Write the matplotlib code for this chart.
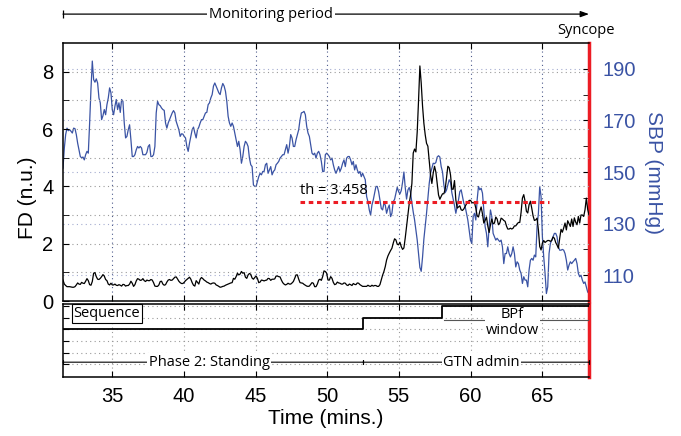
import matplotlib
matplotlib.use('Agg')
import matplotlib.pyplot as plt
import numpy as np

plt.rcParams['font.family'] = ['Liberation Sans', 'DejaVu Sans']

# time span of the recording (minutes)
t_start, t_end = 31.56, 68.27

# FD (n.u.), black trace
fd = [
    0.73, 0.59, 0.54, 0.50, 0.50, 0.50, 0.49, 0.48, 0.48, 0.50,
    0.56, 0.63, 0.59, 0.58, 0.65, 0.62, 0.61, 0.69, 0.78, 0.71,
    0.57, 0.55, 0.68, 0.97, 0.99, 0.85, 0.76, 0.75, 0.79, 0.85,
    0.92, 0.87, 0.75, 0.71, 0.59, 0.56, 0.62, 0.56, 0.56, 0.59,
    0.55, 0.54, 0.57, 0.55, 0.52, 0.58, 0.57, 0.52, 0.54, 0.54,
    0.59, 0.69, 0.62, 0.51, 0.57, 0.70, 0.78, 0.76, 0.72, 0.73,
    0.78, 0.71, 0.68, 0.73, 0.71, 0.71, 0.75, 0.73, 0.64, 0.52,
    0.51, 0.51, 0.56, 0.68, 0.69, 0.59, 0.55, 0.57, 0.66, 0.73,
    0.75, 0.72, 0.73, 0.78, 0.83, 0.84, 0.77, 0.69, 0.64, 0.61,
    0.61, 0.65, 0.71, 0.75, 0.79, 0.83, 0.76, 0.64, 0.55, 0.52,
    0.71, 0.65, 0.59, 0.76, 0.82, 0.78, 0.73, 0.70, 0.66, 0.64,
    0.61, 0.59, 0.62, 0.63, 0.62, 0.56, 0.54, 0.51, 0.48, 0.49,
    0.51, 0.52, 0.55, 0.57, 0.59, 0.61, 0.63, 0.64, 0.79, 0.76,
    0.85, 0.97, 0.91, 0.94, 1.03, 0.97, 0.99, 0.83, 0.79, 0.91,
    0.96, 0.93, 0.80, 0.76, 0.82, 0.87, 0.79, 0.64, 0.66, 0.73,
    0.72, 0.70, 0.72, 0.73, 0.79, 0.78, 0.72, 0.76, 0.76, 0.77,
    0.87, 0.87, 0.85, 0.84, 0.73, 0.64, 0.59, 0.56, 0.58, 0.62,
    0.59, 0.59, 0.63, 0.68, 0.79, 0.91, 0.91, 0.76, 0.64, 0.63,
    0.62, 0.58, 0.55, 0.52, 0.51, 0.52, 0.58, 0.64, 0.62, 0.50,
    0.50, 0.59, 0.73, 0.76, 0.72, 0.85, 1.05,
    1.03, 0.97, 0.73, 0.73, 0.85, 0.79, 0.65, 0.57, 0.59, 0.66,
    0.63, 0.62, 0.59, 0.59, 0.63, 0.62, 0.56, 0.54, 0.59, 0.57,
    0.54, 0.61, 0.58, 0.57, 0.63, 0.62, 0.57, 0.54, 0.51, 0.51,
    0.51, 0.51, 0.55, 0.52, 0.51, 0.55, 0.52, 0.54, 0.54, 0.51,
    0.51, 0.57, 0.73, 0.90, 1.03, 1.20, 1.43, 1.57, 1.67, 1.76,
    1.84, 2.02, 2.17, 2.13, 1.98, 1.96, 2.05, 1.90, 1.80, 1.85,
    2.20, 2.60, 3.00, 3.40, 3.70, 4.10, 5.16, 5.30, 5.20, 5.90,
    7.00, 8.20, 7.60, 6.80, 6.20, 5.80, 5.50, 5.40, 4.90, 4.40,
    4.10, 4.46, 4.70, 4.50, 4.10, 3.70, 3.55, 3.65, 3.74, 3.74,
    3.90, 4.30, 4.70, 4.65, 4.40, 3.90, 3.90, 4.20,
    3.53, 3.24, 3.28, 3.32, 3.18, 3.16, 3.21, 3.30, 3.39, 3.44,
    3.51, 3.51, 3.44, 3.42, 3.44, 3.24, 2.97, 2.93, 3.13, 3.28,
    3.04, 2.72, 2.81, 2.93, 2.62, 2.39, 2.66, 2.86, 2.69, 2.72,
    2.93, 2.86, 2.66, 2.72, 2.89, 2.86, 2.81, 2.78, 2.62, 2.51,
    2.51, 2.54, 2.51, 2.54, 2.62, 2.62, 2.69, 2.74, 2.74, 3.09,
    3.59, 3.71, 3.48, 3.13, 3.07, 3.36, 3.48, 3.24, 2.97, 2.81,
    2.83, 2.89, 2.48, 1.90, 1.78, 2.02, 2.11, 2.04, 2.08, 2.11,
    2.11, 2.08, 2.11, 2.23, 2.19, 2.04, 1.95, 1.84, 2.19, 2.50,
    2.40, 2.55, 2.72, 2.48, 2.80, 2.70, 2.60, 2.86, 2.60, 2.90,
    2.75, 2.66, 2.95, 2.72, 3.00, 3.00, 2.95, 3.18, 3.59, 3.20,
    3.00,
]

# SBP (mmHg), blue trace
sbp = [
    151.5, 159.3, 164.5, 167.0, 166.0, 166.4, 165.8, 165.1, 167.0, 166.8,
    164.5, 161.2, 158.6, 156.0, 155.5, 155.8, 154.7, 156.7, 158.0, 157.3,
    169.0, 182.0, 193.0, 185.8, 184.8, 186.1, 184.5, 178.7, 176.8, 170.3,
    171.8, 174.2, 172.2, 176.1, 178.7, 182.6, 180.7, 174.2, 172.2, 175.5,
    178.1, 174.2, 176.8, 173.1, 178.1, 177.4, 169.0, 163.2, 163.8, 166.4,
    168.3, 162.5, 156.0, 156.0, 156.7, 158.6, 159.9, 159.3, 159.9, 159.3,
    156.7, 156.7, 156.7, 157.6, 159.9, 160.6, 156.0, 156.0, 156.7, 159.9,
    172.9, 177.4, 176.1, 175.7, 174.8, 174.2, 173.9, 169.0, 167.0, 169.0,
    170.3, 171.6, 172.9, 173.8, 172.9, 169.6, 168.0, 166.4, 163.8, 164.8,
    164.7, 163.8, 163.2, 159.9, 158.0, 161.2, 163.8, 166.4, 167.4, 165.1,
    163.2, 166.4, 167.4, 169.0, 170.3, 170.3, 171.6, 172.9, 173.1, 176.1,
    176.8, 178.7, 180.0, 183.3, 184.5, 183.3, 182.0, 180.7, 180.0, 182.6,
    184.3, 183.3, 181.3, 177.4, 171.6, 169.0, 167.7, 169.0, 167.7, 165.1,
    162.5, 159.9, 161.9, 158.6, 153.4, 156.0, 159.9, 161.9, 161.2, 159.9,
    155.4, 152.8, 152.1, 145.0, 144.4, 144.4, 146.3, 148.2, 149.5, 148.9,
    150.2, 150.2, 152.8, 153.4, 149.5, 150.8, 152.1, 148.9, 150.2, 150.8,
    152.8, 153.4, 154.1, 155.4, 156.0, 156.7, 156.7, 158.6, 160.6, 157.3,
    159.9, 164.5, 163.2, 159.9, 159.9, 162.5, 164.5, 166.4, 170.3, 172.9,
    173.1, 173.5, 172.2, 167.7, 165.1, 163.8, 160.6, 157.3, 156.7, 157.3,
    155.4, 157.3, 158.0, 156.7, 154.1, 150.2, 150.2,
    156.7, 157.3, 156.7, 156.0, 154.7, 155.4, 152.8, 150.8, 149.5, 150.8,
    152.1, 150.2, 151.5, 153.4, 154.7, 152.1, 155.4, 156.0, 156.0, 154.7,
    152.8, 154.1, 150.8, 152.8, 150.8, 149.5, 150.2, 148.2, 149.5, 148.2,
    147.0, 140.5, 138.5, 135.3, 133.3, 137.2, 139.2, 141.8, 144.4, 144.4,
    142.4, 139.2, 135.9, 135.3, 137.9, 137.2, 134.0, 135.9, 137.2, 132.7,
    134.0, 138.5, 139.4, 141.8, 144.1, 142.4, 141.5, 142.8, 146.0, 150.0,
    144.0, 139.5, 143.0, 144.0, 142.0, 138.0, 134.5, 131.5, 127.5, 123.6,
    118.5, 113.0, 111.5, 117.0, 124.0, 129.0, 134.0, 140.0, 145.5, 149.5,
    151.5, 153.4, 153.2, 153.7, 155.8, 156.3, 155.8, 152.1, 150.0, 145.0,
    142.0, 143.0, 145.0, 147.0, 146.0, 142.0, 139.5, 137.0,
    134.0, 136.6, 139.2, 142.4, 143.1, 140.5, 137.9, 136.6, 134.0, 131.4,
    127.5, 123.6, 122.3, 132.7, 134.0, 131.4, 139.2, 144.4, 143.1, 143.7,
    141.8, 135.3, 128.8, 126.2, 121.0, 128.8, 135.3, 132.7, 126.2, 124.9,
    123.6, 124.3, 123.6, 123.0, 123.6, 121.0, 114.5, 118.4, 118.4, 121.0,
    118.4, 117.1, 118.4, 121.0, 118.4, 113.2, 115.2, 114.5, 112.0, 110.7,
    106.8, 109.4, 108.1, 108.1, 105.5, 112.0, 115.8, 116.5, 115.8, 117.8,
    117.1, 128.8, 134.0, 144.4, 140.5, 124.9, 117.1, 110.7, 102.9, 105.5,
    118.4, 122.3, 123.6, 124.9, 126.2, 126.2, 124.9, 121.0, 119.7, 119.7,
    120.0, 119.7, 118.4, 115.8, 112.0, 113.9, 115.2, 114.5, 115.2, 115.8,
    116.5, 114.5, 110.7, 109.4, 110.0, 108.1, 106.8, 107.4, 105.5, 103.5,
    102.9,
]

t = np.linspace(t_start, t_end, len(fd))

threshold = 3.458
th_span = (48.1, 65.5)

# sequence (step) panel
seq_x = [t_start, 52.5, 52.5, 58.0, 58.0, t_end]
seq_y = [4, 4, 5, 5, 6, 6]

blue = '#3a53a4'
red = '#ec1c24'
dot = (0, (1, 3))
ann_font = ['Open Sans', 'DejaVu Sans']

fig = plt.figure(figsize=(6.81, 4.36), dpi=100)
ax = fig.add_axes([63/681, 1-301/436, 526/681, 258/436])
ax2 = ax.twinx()
ax3 = fig.add_axes([63/681, 1-377/436, 526/681, 73.5/436])

ax.set_zorder(ax2.get_zorder() + 1)
ax.patch.set_visible(False)

# blue SBP
ax2.plot(t, sbp, color=blue, lw=0.9)
ax2.set_ylim(100, 200)
ax2.set_yticks([110, 130, 150, 170, 190])
ax2.set_yticks([120, 140, 160, 180], minor=True)
ax2.tick_params(axis='y', which='both', direction='in', length=4, labelsize=14.5,
                labelcolor=blue, pad=10)
ax2.grid(axis='y', which='major', ls=dot, color='#a4acd0', lw=0.8)
ax2.set_ylabel('SBP (mmHg)', color=blue, fontsize=15, rotation=270, va='bottom')
ax2.yaxis.set_label_coords(1.105, 0.5)
for s in ['left', 'top', 'bottom']:
    ax2.spines[s].set_visible(False)
ax2.spines['right'].set_color(red)
ax2.spines['right'].set_linewidth(2.5)

# black FD
ax.plot(t, fd, color='black', lw=0.9)
ax.plot(th_span, [threshold, threshold], color=red, lw=2.2, ls=(0, (1.5, 1.2)))
ax.text(th_span[0], threshold + 0.15, 'th = 3.458', fontsize=10.5, family=ann_font,
        ha='left', va='bottom')
ax.set_xlim(t_start, t_end)
ax.set_ylim(0, 9)
ax.set_yticks([0, 2, 4, 6, 8])
ax.set_yticks([1, 3, 5, 7], minor=True)
ax.set_xticks(range(35, 70, 5))
ax.tick_params(axis='both', which='both', direction='in', length=4, labelsize=14.5,
               top=True, labelbottom=False, pad=7)
ax.grid(axis='y', which='both', ls=dot, color='#9a9a9a', lw=0.8)
ax.grid(axis='x', which='major', ls=dot, color='#4d5b8c', lw=0.8)
ax.set_ylabel('FD (n.u.)', fontsize=15)
ax.yaxis.set_label_coords(-0.05, 0.4)
ax.spines['right'].set_visible(False)
for s in ['left', 'top', 'bottom']:
    ax.spines[s].set_linewidth(1.1)

# monitoring period arrow above
xt = ax.get_xaxis_transform()
ax.annotate('', xy=(t_end, 1.112), xytext=(t_start, 1.112), xycoords=xt, textcoords=xt,
            annotation_clip=False,
            arrowprops=dict(arrowstyle='-|>, head_length=0.5, head_width=0.18',
                            color='black', lw=0.9, shrinkA=0, shrinkB=0))
ax.plot([t_start], [1.112], marker='|', ms=6, mew=0.9, color='black', transform=xt,
        clip_on=False)
ax.text(46.1, 1.112, 'Monitoring period', transform=xt, fontsize=10.5, family=ann_font,
        ha='center', va='center', zorder=6,
        bbox=dict(facecolor='white', edgecolor='none', pad=1.5))
ax.text(68.05, 1.047, 'Syncope', transform=xt, fontsize=10.5, family=ann_font,
        ha='center', va='center')

# lower panel
ax3.plot(seq_x, seq_y, color='black', lw=1.3, zorder=5)
ax3.set_xlim(t_start, t_end)
ax3.set_ylim(-0.1, 6.2)
ax3.set_yticks([1, 2, 3, 4, 5, 6])
ax3.set_xticks(range(35, 70, 5))
ax3.tick_params(axis='y', direction='in', length=4, labelleft=False)
ax3.tick_params(axis='x', direction='in', length=4, top=True, labelsize=14.5, pad=7)
ax3.grid(axis='both', ls=dot, color='#9a9a9a', lw=0.8)
ax3.set_xlabel('Time (mins.)', fontsize=15, labelpad=2)
for s in ['left', 'top', 'bottom']:
    ax3.spines[s].set_linewidth(1.1)
ax3.spines['right'].set_color(red)
ax3.spines['right'].set_linewidth(2.5)

ax3.text(32.3, 5.31, 'Sequence', fontsize=10.5, family=ann_font, ha='left', va='center',
         zorder=6, bbox=dict(facecolor='white', edgecolor='black', lw=0.8, pad=1.5))

ax3.plot([58.15, t_end], [4.78, 4.78], color='#555555', lw=0.8, zorder=3)
ax3.text(62.94, 4.59, 'BPf\nwindow', fontsize=10.5, family=ann_font, ha='center',
         va='center', linespacing=1.05, zorder=4,
         bbox=dict(facecolor='white', edgecolor='none', pad=0.5))

for x0, x1, label, xc in [(t_start, 52.5, 'Phase 2: Standing', 41.76),
                          (52.5, t_end, 'GTN admin', 60.78)]:
    ax3.annotate('', xy=(x1, 1.17), xytext=(x0, 1.17),
                 arrowprops=dict(arrowstyle='|-|, widthA=0.15, widthB=0.15',
                                 color='black', lw=0.8, shrinkA=0, shrinkB=0))
    ax3.text(xc, 1.17, label, fontsize=10.5, family=ann_font, ha='center', va='center',
             zorder=6, bbox=dict(facecolor='white', edgecolor='none', pad=1.0))

fig.savefig('out.png', dpi=100)
